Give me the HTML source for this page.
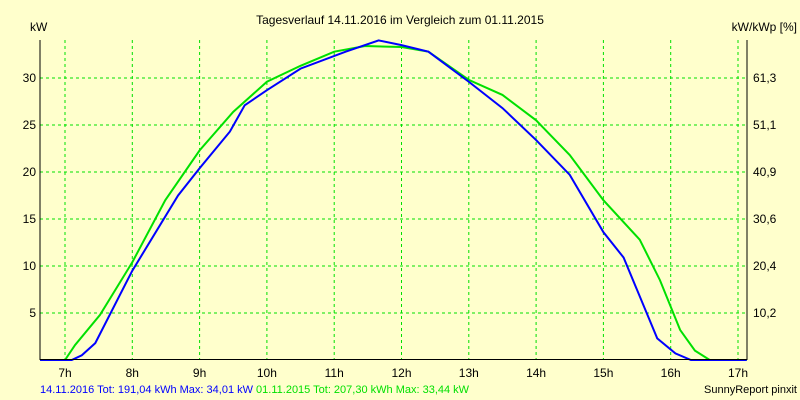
<!DOCTYPE html>
<html><head><meta charset="utf-8"><style>
body{margin:0;background:#ffffcc;}
svg{display:block;font-family:"Liberation Sans",sans-serif;}
</style></head><body>
<svg id="c" width="800" height="400">
<rect width="800" height="400" fill="#ffffcc"/>
<text x="400" y="24" font-size="12" text-anchor="middle">Tagesverlauf 14.11.2016 im Vergleich zum 01.11.2015</text>
<text x="30" y="31" font-size="12">kW</text>
<text x="797" y="31" font-size="12" text-anchor="end">kW/kWp [%]</text>
<g id="grid"></g><g id="series"></g><g id="axes"></g>
<text x="40" y="393" font-size="11"><tspan fill="#0000ff">14.11.2016 Tot: 191,04 kWh Max: 34,01 kW</tspan><tspan fill="#00e000"> 01.11.2015 Tot: 207,30 kWh Max: 33,44 kW</tspan></text>
<text x="797" y="393" font-size="11" text-anchor="end">SunnyReport pinxit</text>
</svg>
<script>
const hours=[7,8,9,10,11,12,13,14,15,16,17];
const yTicks=[5,10,15,20,25,30];
const y2Labels=["10,2","20,4","30,6","40,9","51,1","61,3"];
const blueH=[6.63,7.1,7.25,7.45,8,8.68,9,9.45,9.67,10,10.5,11.17,11.66,12,12.4,13,13.5,14,14.5,15,15.3,15.8,16.07,16.3,17.13];
const blueKW=[0,0,0.5,1.8,9.5,17.5,20.4,24.3,27.1,28.7,31,32.8,34,33.5,32.8,29.6,26.8,23.4,19.7,13.6,10.9,2.3,0.7,0,0];
const greenH=[6.63,7.0,7.15,7.52,8,8.49,9,9.5,10,10.5,11,11.46,12,12.4,13,13.5,14,14.5,15,15.54,15.84,16.14,16.36,16.58,17.13];
const greenKW=[0,0,1.6,4.8,10.4,17,22.3,26.4,29.6,31.3,32.8,33.4,33.3,32.8,29.8,28.2,25.5,21.8,17,12.8,8.5,3.2,1,0,0];
const X=h=>65+(h-7)*67.3, Y=v=>360-v*9.4;
const NS="http://www.w3.org/2000/svg";
function mk(t,p,a){const e=document.createElementNS(NS,t);for(const k in a)e.setAttribute(k,a[k]);p.appendChild(e);return e;}
const g=document.getElementById('grid'),s=document.getElementById('series'),ax=document.getElementById('axes');
hours.forEach(h=>{
 if(h<17.1){const l=mk('line',g,{x1:X(h),x2:X(h),y1:40,y2:359,stroke:'#00e000','stroke-dasharray':'3,3'});
 
 }
 const t=mk('text',ax,{x:X(h),y:377,'font-size':12,'text-anchor':'middle'});t.textContent=h+'h';
 
 
});
yTicks.forEach((v,i)=>{
 const l=mk('line',g,{x1:40,x2:747,y1:Y(v),y2:Y(v),stroke:'#00e000','stroke-dasharray':'3,3'});
 
 
 const t=mk('text',ax,{x:36,y:Y(v)+4,'font-size':12,'text-anchor':'end'});t.textContent=v;
 
 
 const t2=mk('text',ax,{x:753,y:Y(v)+4,'font-size':12});t2.textContent=y2Labels[i];
 
 
});
const fr=mk('path',ax,{d:'M40,40V359.5H747V40',fill:'none',stroke:'#000','stroke-width':1});


function line(hs,vs,c,n){const p=mk('polyline',s,{points:hs.map((h,i)=>Math.max(40,Math.min(747,X(h)))+','+Y(vs[i])).join(' '),fill:'none',stroke:c,'stroke-width':2});
 
 }
line(greenH,greenKW,'#00e000','series-2015');
line(blueH,blueKW,'#0000ff','series-2016');
</script>
</body></html>
